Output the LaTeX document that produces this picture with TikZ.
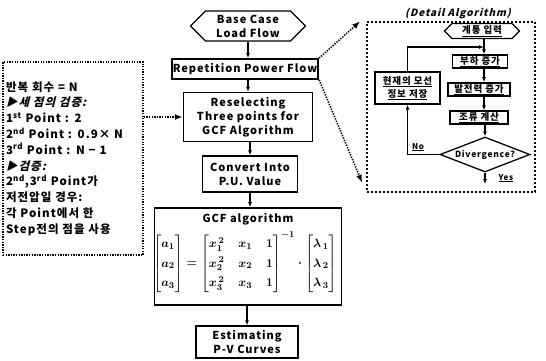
\documentclass[tikz,border=0pt]{standalone}
\usepackage{amsmath}
\usepackage{fontspec}
\setmainfont{Noto Sans CJK KR}[LetterSpace=9]
\newfontfamily\krit{Noto Sans CJK KR}[FakeSlant=0.25,LetterSpace=9]
\usetikzlibrary{arrows.meta,shapes.geometric,shapes.symbols}
\begin{document}
\begin{tikzpicture}[x=1pt,y=-1pt,
  mainbox/.style={draw, line width=1.4pt, align=center, inner sep=1pt,
    font=\fontsize{11}{14}\selectfont\bfseries},
  hexa/.style={signal, signal to=east and west, signal pointer angle=90},
  dbox/.style={draw, line width=1.3pt, align=center, inner sep=1pt,
    font=\fontsize{9.5}{13}\selectfont\bfseries},
  arr/.style={-{Latex[length=5pt,width=4pt]}, line width=1.2pt},
  dotarr/.style={line width=1.6pt, dash pattern=on 1.3pt off 1.3pt,
    -{Latex[length=8pt,width=6pt]}},
  notebox/.style={draw, line width=1.6pt, dash pattern=on 1.3pt off 1.3pt,
    align=left, inner sep=3pt,
    font=\fontsize{11.5}{15.8}\selectfont\bfseries},
  detbox/.style={draw, line width=1.6pt, dash pattern=on 2pt off 2pt, inner sep=0pt},
  lab/.style={inner sep=0pt, font=\fontsize{8}{10}\selectfont\bfseries}
]
\useasboundingbox (0,0) rectangle (546,360);

% main column
\node[mainbox, hexa, minimum width=115, minimum height=30] (base) at (248,26) {Base Case\\Load Flow};
\node[mainbox, line width=1.8pt, minimum width=146, minimum height=20] (rep) at (245,69) {Repetition Power Flow};
\node[mainbox, minimum width=129, minimum height=49] (res) at (248,117) {Reselecting\\Three points for\\GCF Algorithm};
\node[mainbox, minimum width=95, minimum height=36] (conv) at (250,174) {Convert Into\\P.U. Value};
\node[mainbox, line width=1.8pt, minimum width=187, minimum height=97] (gcf) at (248,256.5) {};
\node[inner sep=0pt, font=\fontsize{11}{14}\selectfont\bfseries] (gcft) at (248,219) {GCF algorithm};
\node[inner sep=0pt, font=\fontsize{13}{16}\selectfont\boldmath] (gcfm) at (245,262)
{$\renewcommand{\arraystretch}{1.2}\setlength\arraycolsep{7pt}
\begin{bmatrix}\boldsymbol{a}_1\\ \boldsymbol{a}_2\\ \boldsymbol{a}_3\end{bmatrix}
=\begin{bmatrix} x_1^{\,2} & x_1 & 1\\ x_2^{\,2} & x_2 & 1\\ x_3^{\,2} & x_3 & 1\end{bmatrix}^{-1}
\cdot\begin{bmatrix}\lambda_{\,1}\\ \lambda_{\,2}\\ \lambda_{\,3}\end{bmatrix}$};
\node[mainbox, minimum width=102, minimum height=32] (est) at (247,342) {Estimating\\P-V Curves};

\draw[arr] (base.south) -- (base.south |- rep.north);
\draw[arr] (rep.south -| res.north) -- (res.north);
\draw[arr] (res.south -| conv.north) -- (conv.north);
\draw[arr] (conv.south) -- (conv.south |- gcf.north);
\draw[arr] (gcf.south -| est.north) -- (est.north);

% notes box
\node[notebox, minimum width=140, minimum height=193, text width=134] (notes) at (73,158.5) {%
반복 회수 = N\\
{\krit ▶세 점의 검증:}\\
1\textsuperscript{st} Point : 2\\
2\textsuperscript{nd} Point : 0.9× N\\
3\textsuperscript{rd} Point : N − 1\\
{\krit ▶검증:}\\
2\textsuperscript{nd},3\textsuperscript{rd} Point가\\
저전압일 경우:\\
각 Point에서 한\\
Step전의 점을 사용};
\draw[dotarr] (notes.east |- res.west) -- (res.west);

% detail algorithm
\node[detbox, minimum width=168, minimum height=170] (det) at (451,107) {};
\node[inner sep=0pt, font=\fontsize{10}{12}\selectfont\bfseries\krit] (dett) at (458,13) {(Detail Algorithm)};
\draw[dotarr] (rep.north east) -- ([xshift=-6pt]det.north west);
\draw[dotarr] (rep.south east) -- ([xshift=-4pt,yshift=10pt]det.south west);

\node[dbox, hexa, minimum width=75, minimum height=15] (inp) at (482,31) {\underline{계통 입력}};
\node[dbox, minimum width=55, minimum height=13] (inc) at (480,61.5) {\underline{부하 증가}};
\node[dbox, line width=1.7pt, minimum width=62, minimum height=13] (gen) at (479,89.5) {\underline{발전력 증가}};
\node[dbox, minimum width=58, minimum height=13] (pf) at (479,117.5) {\underline{조류 계산}};
\node[dbox, diamond, aspect=2.6, minimum width=90, minimum height=35, inner sep=0pt,
  font=\fontsize{8.5}{10}\selectfont\bfseries] (div) at (485,154.5) {Divergence?};
\node[dbox, minimum width=65, minimum height=32] (save) at (407.5,88) {\underline{현재의 모선}\\\underline{정보 저장}};
\coordinate (loopin) at (484,47);
\coordinate (yesend) at (485,184);

\draw[arr] (inp.south -| loopin) -- (inc.north -| loopin);
\draw[arr] (inc.south -| loopin) -- (gen.north -| loopin);
\draw[arr] (gen.south -| loopin) -- (pf.north -| loopin);
\draw[arr] (pf.south -| div.north) -- (div.north);
\draw[arr] (div.south) -- (yesend);
\draw[arr] (div.west) -| (save.south);
\draw[arr] (save.north) |- (loopin);
\node[lab] (nolab) at (418,147) {\underline{No}};
\node[lab] (yeslab) at (506,178) {\underline{Yes}};
\end{tikzpicture}
\end{document}
